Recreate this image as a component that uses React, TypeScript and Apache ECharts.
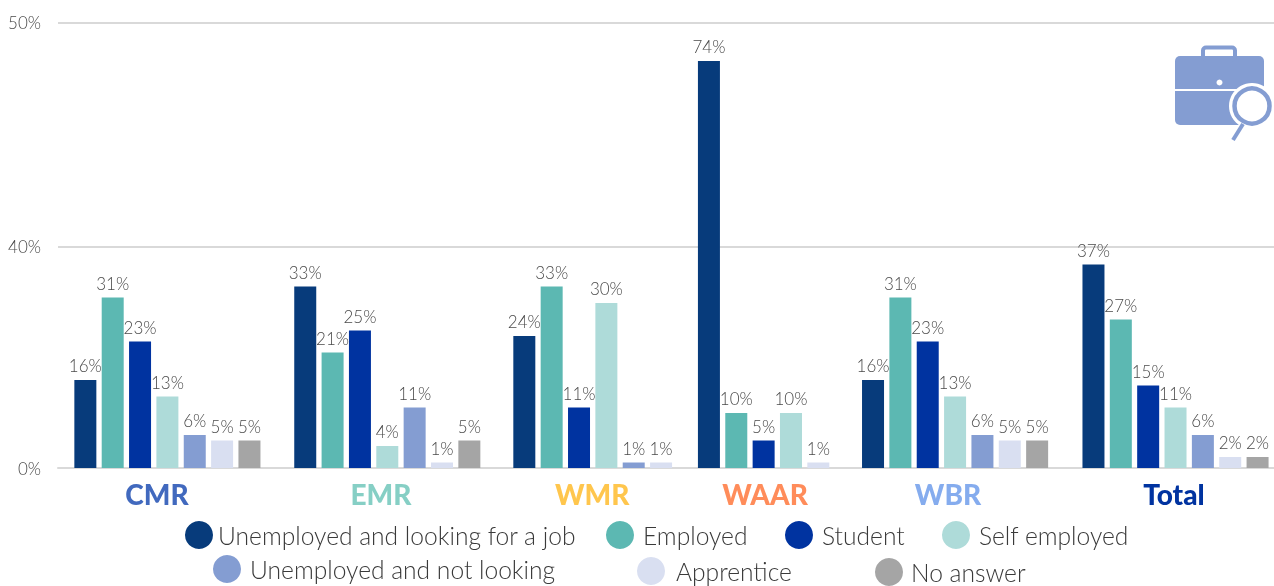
import React, { useEffect, useRef } from "react";
import * as echarts from "echarts";

const regions = ["CMR", "EMR", "WMR", "WAAR", "WBR", "Total"];
const regionColors = ["#4169BE", "#86CFC5", "#FFC64D", "#FF8C5A", "#85ACEE", "#0033A0"];

const statuses = [
  "Unemployed and looking for a job",
  "Employed",
  "Student",
  "Self employed",
  "Unemployed and not looking",
  "Apprentice",
  "No answer",
];
const statusColors = ["#073B7B", "#5CB8B2", "#0033A0", "#AEDBD9", "#849DD2", "#D9DFF1", "#A5A5A5"];

// Percentages per region, in the order of `regions`; null means no bar for that answer.
const lookingForJob = [16, 33, 24, 74, 16, 37];
const employed = [31, 21, 33, 10, 31, 27];
const student = [23, 25, 11, 5, 23, 15];
const selfEmployed = [13, 4, 30, 10, 13, 11];
const notLooking = [6, 11, 1, null, 6, 6];
const apprentice = [5, 1, 1, 1, 5, 2];
const noAnswer = [5, 5, null, null, 5, 2];
const statusValues = [lookingForJob, employed, student, selfEmployed, notLooking, apprentice, noAnswer];

const yTicks = [0, 40.2, 81];
const yTickLabels = ["0%", "40%", "50%"];

// Layout: the x axis runs in bar slots, so one unit is one bar plus its gap.
const SLOT_PX = 27.35;
const GRID_LEFT = 58;
const GRID_RIGHT = 1274;
const groupStarts = [1, 9.04, 17.05, 23.8, 29.8, 37.86];
const labelCentres = [3.62, 11.81, 19.53, 25.85, 32.54, 40.8];

// One legend block per entry: the two rows are not on a regular grid.
const legendSpots = [
  { left: 185, top: 521, pad: 0 },
  { left: 606, top: 521, pad: 4 },
  { left: 785, top: 521, pad: 4 },
  { left: 942, top: 521, pad: 4 },
  { left: 213, top: 555, pad: 4 },
  { left: 637, top: 557, pad: 6 },
  { left: 875, top: 558, pad: 3 },
];

function slotOf(status: number, region: number): number {
  let used = 0;
  for (let s = 0; s < status; s++) if (statusValues[s][region] !== null) used++;
  return groupStarts[region] + used;
}

const FONT = "Lato";

function buildOption() {
  const rich: Record<string, object> = {};
  regions.forEach((_, i) => {
    rich["r" + i] = { color: regionColors[i], fontFamily: FONT, fontWeight: 900, fontSize: 28 };
  });

  const series: any[] = statuses.map((name, s) => ({
    name,
    type: "bar",
    barWidth: 22,
    barGap: "-100%",
    itemStyle: { color: statusColors[s] },
    label: {
      show: true,
      position: "top",
      distance: 6,
      formatter: (p: any) => p.value[1] + "%",
      fontFamily: FONT,
      fontWeight: 300,
      fontSize: 17,
      color: "#4A4A4A",
    },
    data: statusValues[s].flatMap((v, r) => (v === null ? [] : [[slotOf(s, r), v]])),
  }));

  // Horizontal rules sit behind the bars, only at the labelled levels above the baseline.
  series[0].markLine = {
    silent: true,
    z: 1,
    symbol: "none",
    label: { show: false },
    lineStyle: { color: "#D9D9D9", width: 2, type: "solid" },
    data: yTicks.slice(1).map((v) => ({ yAxis: v })),
  };

  return {
    animation: false,
    grid: { left: GRID_LEFT, right: 1274 - GRID_RIGHT, top: 22.5, bottom: 586 - 468 },
    legend: statuses.map((name, s) => ({
      data: [name],
      left: legendSpots[s].left,
      top: legendSpots[s].top,
      icon: "circle",
      itemWidth: 28,
      itemHeight: 28,
      selectedMode: false,
      padding: 0,
      textStyle: {
        fontFamily: FONT,
        fontWeight: 300,
        fontSize: 24.6,
        color: "#3A3A3A",
        padding: [0, 0, 3, legendSpots[s].pad],
      },
    })),
    xAxis: {
      type: "value",
      min: 0,
      max: (GRID_RIGHT - GRID_LEFT) / SLOT_PX,
      splitLine: { show: false },
      axisTick: { show: false },
      axisLine: { show: true, onZero: true, lineStyle: { color: "#D9D9D9", width: 2 } },
      axisLabel: {
        customValues: labelCentres,
        margin: 12,
        hideOverlap: false,
        showMinLabel: true,
        showMaxLabel: true,
        formatter: (v: number) => {
          const i = labelCentres.indexOf(v);
          return `{r${i}|${regions[i]}}`;
        },
        rich,
      },
    },
    yAxis: {
      type: "value",
      min: 0,
      max: 81,
      axisLine: { show: false },
      axisTick: { show: false },
      splitLine: { show: false },
      axisLabel: {
        customValues: yTicks,
        margin: 17,
        fontFamily: FONT,
        fontWeight: 300,
        fontSize: 17,
        color: "#4A4A4A",
        formatter: (v: number) => yTickLabels[yTicks.indexOf(v)],
      },
    },
    graphic: [
      { type: "rect", z: 10, shape: { x: 1175, y: 56, width: 89, height: 69, r: 5 }, style: { fill: "#849DD2" } },
      {
        type: "rect",
        z: 10,
        shape: { x: 1203, y: 47.5, width: 32, height: 12, r: 3 },
        style: { fill: "none", stroke: "#849DD2", lineWidth: 4 },
      },
      { type: "rect", z: 11, shape: { x: 1175, y: 89, width: 89, height: 2 }, style: { fill: "#fff" } },
      { type: "circle", z: 11, shape: { cx: 1219.5, cy: 82.5, r: 3 }, style: { fill: "#fff" } },
      { type: "circle", z: 12, shape: { cx: 1252, cy: 106, r: 23 }, style: { fill: "#fff" } },
      {
        type: "circle",
        z: 13,
        shape: { cx: 1252, cy: 106, r: 17.5 },
        style: { fill: "#fff", stroke: "#849DD2", lineWidth: 4.5 },
      },
      {
        type: "line",
        z: 13,
        shape: { x1: 1243, y1: 124, x2: 1233, y2: 140 },
        style: { stroke: "#849DD2", lineWidth: 4 },
      },
    ],
    series,
  };
}

export default function App() {
  const ref = useRef<HTMLDivElement>(null);
  useEffect(() => {
    const chart = echarts.init(ref.current!, undefined, { renderer: "svg" });
    chart.setOption(buildOption() as any);
    return () => chart.dispose();
  }, []);
  return <div ref={ref} style={{ position: "fixed", left: 0, top: 0, width: 1274, height: 586 }} />;
}
